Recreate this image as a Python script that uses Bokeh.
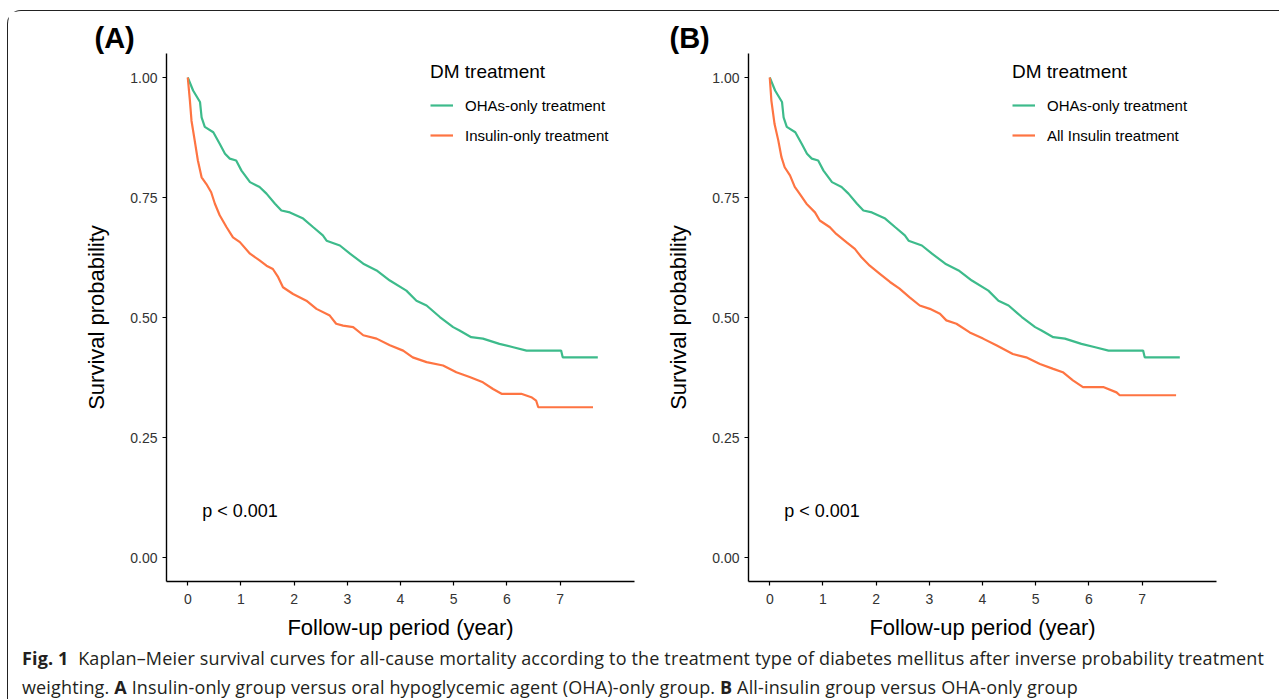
from bokeh.plotting import figure
from bokeh.models import Legend, LegendItem, Label, Div, FixedTicker, NumeralTickFormatter, Range1d
from bokeh.layouts import row, column
from bokeh.embed import file_html
from bokeh.resources import INLINE

# ---------------- data ----------------
oha_time = [0, 0.10, 0.23, 0.26, 0.32, 0.48, 0.60, 0.70, 0.79, 0.91, 1.01, 1.17, 1.35, 1.48,
            1.64, 1.76, 1.92, 2.17, 2.36, 2.54, 2.61, 2.86, 3.05, 3.30, 3.55, 3.80, 4.11,
            4.30, 4.49, 4.74, 4.99, 5.11, 5.33, 5.55, 5.86, 6.12, 6.37, 7.02, 7.05, 7.71]
oha_surv = [1.0, 0.973, 0.949, 0.917, 0.897, 0.886, 0.862, 0.841, 0.831, 0.827, 0.806, 0.782,
            0.772, 0.758, 0.737, 0.723, 0.719, 0.706, 0.688, 0.671, 0.660, 0.650, 0.633, 0.612,
            0.598, 0.577, 0.556, 0.535, 0.525, 0.501, 0.480, 0.473, 0.459, 0.456, 0.445, 0.438,
            0.431, 0.431, 0.417, 0.417]

insulin_only_time = [0, 0.04, 0.07, 0.13, 0.19, 0.26, 0.35, 0.44, 0.51, 0.60, 0.73, 0.85, 0.98,
                     1.17, 1.35, 1.48, 1.60, 1.70, 1.79, 1.98, 2.23, 2.42, 2.67, 2.79, 2.92,
                     3.11, 3.30, 3.55, 3.80, 4.05, 4.23, 4.49, 4.80, 5.05, 5.30, 5.55, 5.74,
                     5.90, 6.27, 6.46, 6.55, 6.59, 7.62]
insulin_only_surv = [1.0, 0.952, 0.910, 0.869, 0.827, 0.792, 0.778, 0.761, 0.737, 0.713, 0.688,
                     0.667, 0.657, 0.633, 0.619, 0.608, 0.601, 0.584, 0.563, 0.549, 0.535, 0.518,
                     0.504, 0.487, 0.483, 0.480, 0.463, 0.456, 0.442, 0.431, 0.417, 0.407, 0.400,
                     0.386, 0.376, 0.365, 0.351, 0.341, 0.341, 0.334, 0.327, 0.313, 0.313]

all_insulin_time = [0, 0.03, 0.09, 0.16, 0.22, 0.28, 0.38, 0.47, 0.56, 0.69, 0.85, 0.94, 1.13,
                    1.25, 1.44, 1.60, 1.72, 1.88, 2.07, 2.26, 2.44, 2.63, 2.82, 3.01, 3.20, 3.32,
                    3.51, 3.76, 4.01, 4.26, 4.57, 4.82, 5.08, 5.33, 5.51, 5.70, 5.89, 6.27, 6.52,
                    6.58, 7.64]
all_insulin_surv = [1.0, 0.952, 0.903, 0.869, 0.834, 0.813, 0.796, 0.772, 0.758, 0.737, 0.719,
                    0.702, 0.688, 0.674, 0.657, 0.643, 0.626, 0.608, 0.591, 0.574, 0.560, 0.542,
                    0.525, 0.518, 0.508, 0.494, 0.487, 0.469, 0.456, 0.442, 0.424, 0.417, 0.403,
                    0.393, 0.386, 0.369, 0.355, 0.355, 0.344, 0.338, 0.338]

x_ticks = [0, 1, 2, 3, 4, 5, 6, 7]
y_ticks = [0.0, 0.25, 0.50, 0.75, 1.00]
panel_tags = ["(A)", "(B)"]
labels_a = ["OHAs-only treatment", "Insulin-only treatment"]
labels_b = ["OHAs-only treatment", "All Insulin treatment"]
legend_title = "DM treatment"
p_value_text = "p < 0.001"
x_title = "Follow-up period (year)"
y_title = "Survival probability"

GREEN = "#3dbb8b"
ORANGE = "#fe7442"
FONT = "Liberation Sans"


def km_panel(tag, ins_time, ins_surv, labels, left_border, right_border, tag_offset):
    p = figure(frame_width=468, frame_height=528, output_backend="svg", toolbar_location=None,
               x_range=Range1d(-0.4, 8.4), y_range=Range1d(-0.05, 1.05),
               min_border_left=left_border, min_border_right=right_border,
               min_border_top=42, min_border_bottom=60,
               background_fill_color="white", border_fill_color="white")
    p.outline_line_color = None
    p.grid.visible = False

    # panel tag as the figure title, pulled to the left of the frame
    p.title.text = tag
    p.title.align = "left"
    p.title.offset = tag_offset
    p.title.standoff = 0
    p.title.text_font = FONT
    p.title.text_font_size = "29px"
    p.title.text_font_style = "bold"
    p.title.text_color = "black"

    r1 = p.line(oha_time, oha_surv, line_color=GREEN, line_width=2.2)
    r2 = p.line(ins_time, ins_surv, line_color=ORANGE, line_width=2.2)

    for ax in (p.xaxis[0], p.yaxis[0]):
        ax.axis_line_color = "black"
        ax.axis_line_width = 1.4
        ax.major_tick_line_color = "black"
        ax.major_tick_line_width = 1.2
        ax.major_tick_out = 4
        ax.major_tick_in = 0
        ax.minor_tick_line_color = None
        ax.major_label_text_font = FONT
        ax.major_label_text_font_size = "14px"
        ax.major_label_text_color = "#333333"
        ax.axis_label_text_font = FONT
        ax.axis_label_text_font_size = "22px"
        ax.axis_label_text_font_style = "normal"
        ax.axis_label_text_color = "black"

    p.xaxis.ticker = FixedTicker(ticks=x_ticks)
    p.yaxis.ticker = FixedTicker(ticks=y_ticks)
    p.yaxis.formatter = NumeralTickFormatter(format="0.00")
    p.xaxis.axis_label = x_title
    p.yaxis.axis_label = y_title
    p.xaxis.major_label_standoff = 8
    p.yaxis.major_label_standoff = 5
    p.xaxis.axis_label_standoff = 8
    p.yaxis.axis_label_standoff = 18

    legend = Legend(items=[LegendItem(label=labels[0], renderers=[r1]),
                           LegendItem(label=labels[1], renderers=[r2])],
                    title=legend_title, location=(264, 436))
    legend.title_text_font = FONT
    legend.title_text_font_size = "19px"
    legend.title_text_font_style = "normal"
    legend.title_text_color = "black"
    legend.title_standoff = 12
    legend.label_text_font = FONT
    legend.label_text_font_size = "15px"
    legend.label_text_color = "black"
    legend.glyph_width = 23
    legend.glyph_height = 20
    legend.label_height = 20
    legend.label_standoff = 12
    legend.spacing = 10
    legend.padding = 0
    legend.margin = 0
    legend.border_line_color = None
    legend.background_fill_alpha = 0
    p.add_layout(legend)

    p.add_layout(Label(x=0.27, y=0.096, text=p_value_text, text_font=FONT,
                       text_font_size="18px", text_baseline="middle", text_color="black"))
    return p


pA = km_panel(panel_tags[0], insulin_only_time, insulin_only_surv, labels_a, 158, 15, -72)
pB = km_panel(panel_tags[1], all_insulin_time, all_insulin_surv, labels_b, 99, 53, -79)

line_style = ("font-family:'Open Sans';font-size:18px;letter-spacing:0.15px;line-height:22px;"
              "padding-left:9px;color:#231f20;white-space:nowrap;")
caption_html = (
    f'<div style="{line_style}">'
    '<b>Fig.&nbsp;1</b>&nbsp;&nbsp;Kaplan\u2013Meier survival curves for all-cause mortality according to '
    'the treatment type of diabetes mellitus after inverse probability treatment</div>'
    f'<div style="{line_style}margin-top:7px;">'
    'weighting. <b>A</b> Insulin-only group versus oral hypoglycemic agent (OHA)-only group. '
    '<b>B</b> All-insulin group versus OHA-only group</div>'
)
caption = Div(text=caption_html, width=1261, height=52, styles={"overflow": "hidden"})

layout = column(row(pA, pB), caption,
                styles={"border-left": "1px solid #222", "border-top": "1px solid #222",
                        "border-top-left-radius": "14px", "margin-top": "10px",
                        "margin-left": "7px"})

open("out.html", "w").write(file_html(layout, INLINE))
